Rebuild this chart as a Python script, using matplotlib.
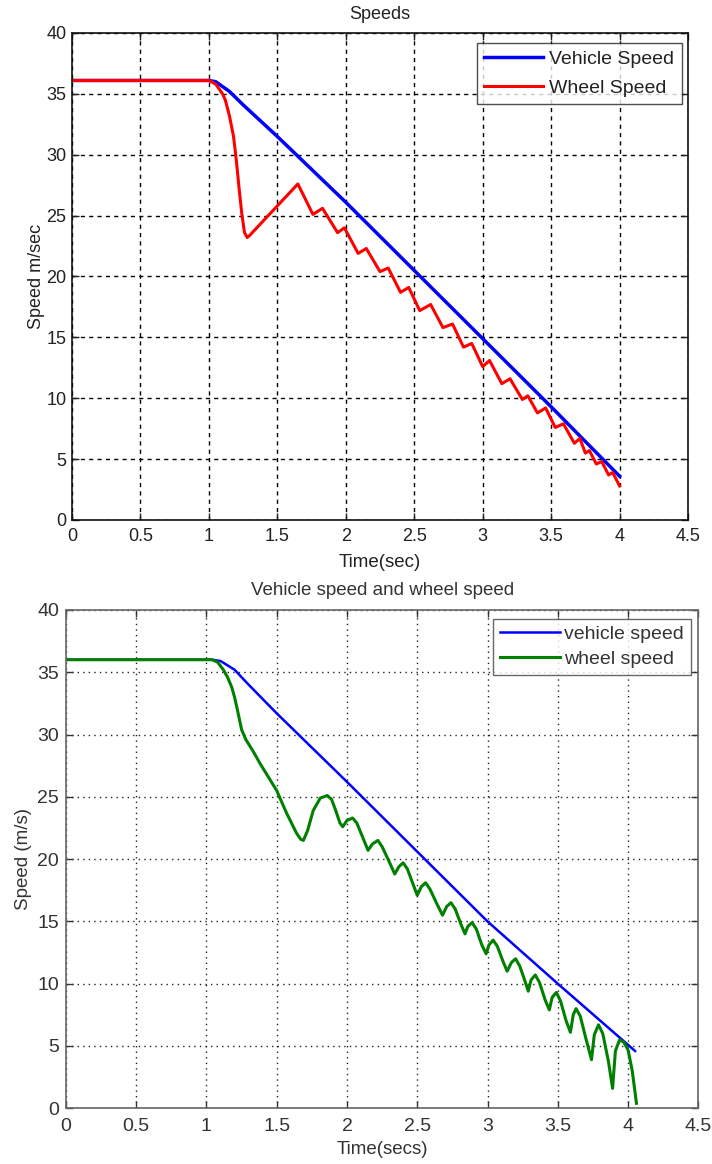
import matplotlib
matplotlib.use("Agg")
import matplotlib.pyplot as plt

# ---------------- data ----------------
# Top panel: "Speeds"
top_vehicle_t = [0.0, 1.00, 1.05, 1.10, 1.15, 1.25, 1.50, 2.00, 2.50, 3.00, 3.50, 4.00]
top_vehicle_v = [36.1, 36.1, 36.0, 35.6, 35.2, 34.1, 31.5, 26.1, 20.5, 14.9, 9.3, 3.6]

top_wheel_t = [0.0, 1.00, 1.05, 1.10, 1.12, 1.15, 1.18, 1.20, 1.22, 1.24, 1.26, 1.28, 1.30,
               1.65, 1.76, 1.83, 1.94, 1.99, 2.09, 2.15, 2.25, 2.31, 2.40, 2.46,
               2.54, 2.62, 2.71, 2.78, 2.86, 2.92, 3.00, 3.05, 3.14, 3.20,
               3.29, 3.33, 3.40, 3.46, 3.53, 3.59, 3.67, 3.71, 3.75, 3.78,
               3.83, 3.87, 3.92, 3.95, 4.00]
top_wheel_v = [36.1, 36.1, 35.8, 35.0, 34.5, 33.2, 31.5, 29.6, 27.3, 25.2, 23.6, 23.2, 23.4,
               27.6, 25.1, 25.6, 23.6, 24.0, 21.9, 22.3, 20.4, 20.7, 18.7, 19.1,
               17.2, 17.7, 15.8, 16.1, 14.2, 14.5, 12.6, 13.1, 11.2, 11.6,
               9.9, 10.2, 8.8, 9.2, 7.6, 7.9, 6.3, 6.7, 5.5, 5.7,
               4.6, 4.8, 3.7, 3.9, 2.8]

# Bottom panel: "Vehicle speed and wheel speed"
bot_vehicle_t = [0.0, 1.04, 1.10, 1.20, 1.30, 1.50, 2.00, 2.50, 3.00, 3.50, 4.05]
bot_vehicle_v = [36.0, 36.0, 35.9, 35.2, 34.0, 31.7, 26.2, 20.6, 15.0, 10.0, 4.6]

bot_wheel_t = [0.0, 1.04, 1.08, 1.12, 1.15, 1.18, 1.20, 1.22, 1.25, 1.28, 1.33, 1.38, 1.44,
               1.50, 1.57, 1.64, 1.67, 1.69,
               1.72, 1.76, 1.81, 1.86, 1.89, 1.92, 1.95, 1.97,
               2.00, 2.04, 2.07, 2.11, 2.15, 2.18, 2.22, 2.25, 2.30, 2.34,
               2.37, 2.40, 2.43, 2.47, 2.50, 2.53, 2.56, 2.59, 2.64, 2.68,
               2.71, 2.74, 2.77, 2.81, 2.84, 2.86, 2.89, 2.92, 2.96, 2.99,
               3.01, 3.04, 3.07, 3.11, 3.14, 3.17, 3.20, 3.23, 3.27, 3.29,
               3.31, 3.34, 3.37, 3.41, 3.44, 3.46, 3.49, 3.52, 3.56, 3.59,
               3.61, 3.63, 3.66, 3.70, 3.74, 3.76, 3.79, 3.82, 3.86, 3.89,
               3.91, 3.94, 3.97, 4.00, 4.03, 4.06]
bot_wheel_v = [36.0, 36.0, 35.8, 35.2, 34.6, 33.8, 33.0, 32.0, 30.4, 29.6, 28.7, 27.7, 26.6,
               25.5, 23.7, 22.1, 21.6, 21.5,
               22.3, 23.9, 24.9, 25.1, 24.8, 23.9, 22.9, 22.6,
               23.1, 23.3, 22.9, 21.8, 20.7, 21.2, 21.5, 21.0, 19.8, 18.8,
               19.4, 19.7, 19.2, 18.0, 17.1, 17.8, 18.1, 17.6, 16.4, 15.5,
               16.2, 16.5, 16.0, 14.8, 14.0, 14.6, 14.9, 14.4, 13.1, 12.4,
               13.1, 13.5, 13.0, 11.8, 11.0, 11.7, 12.0, 11.4, 10.1, 9.4,
               10.3, 10.7, 10.1, 8.7, 7.9, 8.9, 9.3, 8.6, 7.0, 6.1,
               7.5, 8.0, 7.4, 5.6, 3.9, 5.9, 6.7, 6.0, 3.8, 1.6,
               4.6, 5.5, 5.3, 4.7, 3.0, 0.4]

x_ticks = [0, 0.5, 1, 1.5, 2, 2.5, 3, 3.5, 4, 4.5]
x_ticklabels = ["0", "0.5", "1", "1.5", "2", "2.5", "3", "3.5", "4", "4.5"]
y_ticks = [0, 5, 10, 15, 20, 25, 30, 35, 40]

FONT = "Liberation Sans"

fig = plt.figure(figsize=(7.12, 11.64), dpi=100)

# ---------------- top panel ----------------
ax1 = fig.add_axes([72 / 712, 1 - 520 / 1164, (688 - 72) / 712, (520 - 33) / 1164])
ax1.plot(top_vehicle_t, top_vehicle_v, color="#0000ff", lw=2.5, label="Vehicle Speed")
ax1.plot(top_wheel_t, top_wheel_v, color="#ff0000", lw=2.2, label="Wheel Speed")
ax1.set_xlim(0, 4.5)
ax1.set_ylim(0, 40)
ax1.set_xticks(x_ticks)
ax1.set_xticklabels(x_ticklabels)
ax1.set_yticks(y_ticks)
ax1.grid(True, color="black", linestyle=(0, (3, 3)), lw=1.0)
ax1.tick_params(direction="in", top=True, right=True, length=5, width=1,
                labelsize=13, colors="#222222")
ax1.tick_params(axis="x", pad=6)
ax1.tick_params(axis="y", pad=4)
for lab in ax1.get_xticklabels() + ax1.get_yticklabels():
    lab.set_fontfamily(FONT)
for s in ax1.spines.values():
    s.set_color("#111111")
    s.set_linewidth(1.2)
ax1.set_title("Speeds", fontsize=13, family=FONT, color="#222222", pad=10)
ax1.set_xlabel("Time(sec)", fontsize=13.5, family=FONT, color="#222222", labelpad=6)
ax1.set_ylabel("Speed m/sec", fontsize=13, family=FONT, color="#222222", labelpad=1)
leg1 = ax1.legend(loc="upper right", bbox_to_anchor=(0.990, 0.979), borderaxespad=0,
                  prop={"family": FONT, "size": 14},
                  frameon=True, fancybox=False, edgecolor="#222222", handlelength=3.0,
                  borderpad=0.38, labelspacing=0.55, handletextpad=0.35)
leg1.get_frame().set_linewidth(1.0)
for t in leg1.get_texts():
    t.set_color("#222222")

# ---------------- bottom panel ----------------
ax2 = fig.add_axes([65.9 / 712, 1 - 1108.3 / 1164, (698.3 - 65.9) / 712, (1108.3 - 609.9) / 1164])
ax2.plot(bot_vehicle_t, bot_vehicle_v, color="#0000ff", lw=1.8, label="vehicle speed")
ax2.plot(bot_wheel_t, bot_wheel_v, color="#008000", lw=2.2, label="wheel speed")
ax2.set_xlim(0, 4.5)
ax2.set_ylim(0, 40)
ax2.set_xticks(x_ticks)
ax2.set_xticklabels(x_ticklabels)
ax2.set_yticks(y_ticks)
ax2.grid(True, color="#222222", linestyle=(0, (1, 3)), lw=1.0)
ax2.tick_params(direction="in", top=True, right=True, length=5, width=1,
                labelsize=14, colors="#333333")
ax2.tick_params(axis="x", pad=7)
ax2.tick_params(axis="y", pad=5)
for lab in ax2.get_xticklabels() + ax2.get_yticklabels():
    lab.set_fontfamily(FONT)
for s in ax2.spines.values():
    s.set_color("#666666")
    s.set_linewidth(1.2)
ax2.set_title("Vehicle speed and wheel speed", fontsize=13.5, family=FONT,
              color="#333333", pad=11)
ax2.set_xlabel("Time(secs)", fontsize=13.5, family=FONT, color="#333333", labelpad=4)
ax2.set_ylabel("Speed (m/s)", fontsize=13.5, family=FONT, color="#333333", labelpad=4)
leg2 = ax2.legend(loc="upper right", bbox_to_anchor=(0.988, 0.982), borderaxespad=0,
                  prop={"family": FONT, "size": 14},
                  frameon=True, fancybox=False, edgecolor="#444444", handlelength=3.1,
                  borderpad=0.35, labelspacing=0.35, handletextpad=0.2)
leg2.get_frame().set_linewidth(1.0)
for t in leg2.get_texts():
    t.set_color("#333333")

fig.savefig("out.png", dpi=100, facecolor="white")
